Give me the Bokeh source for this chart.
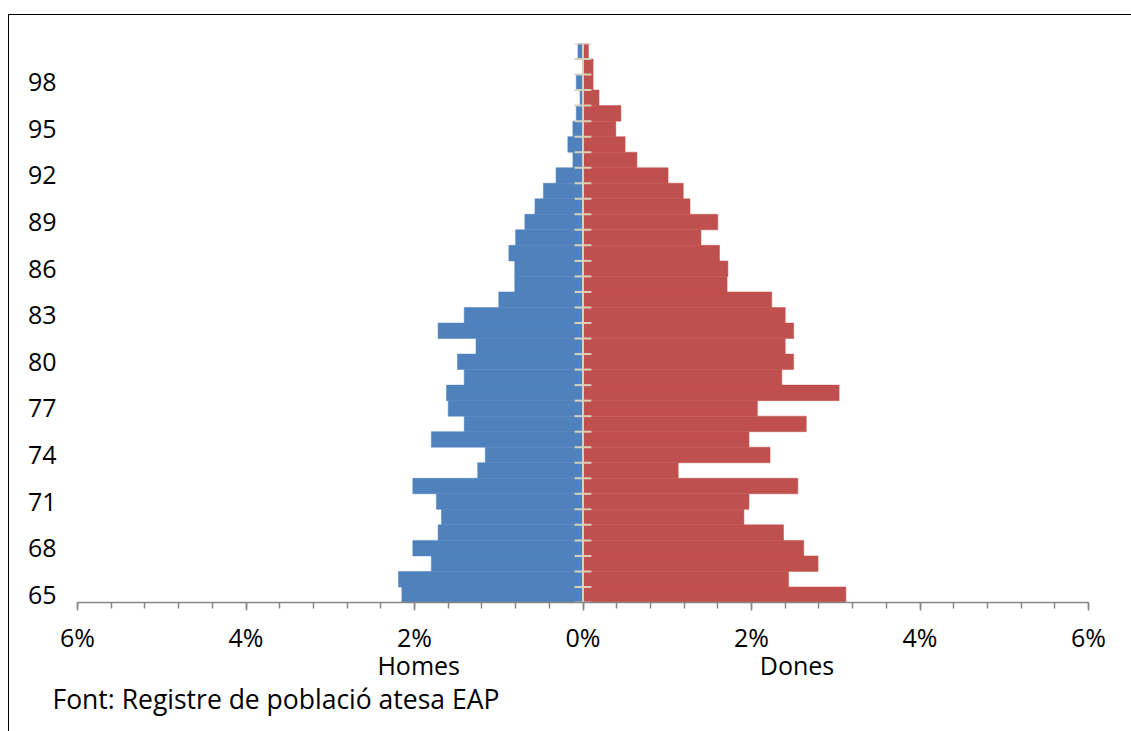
from bokeh.plotting import figure
from bokeh.models import (Range1d, FixedTicker, CustomJSTickFormatter, LinearAxis,
                          ColumnDataSource, InlineStyleSheet, Title)
from bokeh.embed import file_html
from bokeh.resources import INLINE

# ---- data (percent of population, ages 65..100) ----
ages = list(range(65, 101))
homes = [2.15, 2.19, 1.80, 2.02, 1.72, 1.68, 1.74, 2.02, 1.25, 1.16,
         1.80, 1.41, 1.60, 1.62, 1.41, 1.49, 1.27, 1.72, 1.41, 1.00,
         0.81, 0.81, 0.88, 0.80, 0.69, 0.57, 0.47, 0.32, 0.12, 0.18,
         0.12, 0.08, 0.035, 0.08, 0.0, 0.06]
dones = [3.12, 2.44, 2.79, 2.62, 2.38, 1.91, 1.97, 2.55, 1.13, 2.22,
         1.97, 2.65, 2.07, 3.04, 2.36, 2.50, 2.40, 2.50, 2.40, 2.24,
         1.71, 1.72, 1.62, 1.40, 1.60, 1.27, 1.19, 1.01, 0.64, 0.50,
         0.39, 0.45, 0.19, 0.12, 0.12, 0.065]
y_tick_ages = [65, 68, 71, 74, 77, 80, 83, 86, 89, 92, 95, 98]
x_ticks = [-6, -4, -2, 0, 2, 4, 6]
series_names = ["Homes", "Dones"]
source_text = "Font: Registre de població atesa EAP"

FONT = "Open Sans"
BLUE = "#4F81BD"
RED = "#C0504D"
AXIS_BEIGE = "#D6D1BD"

W, H = 1131, 731
FL, FR, FT, FB = 77, 43, 43, 129   # frame borders
p = figure(width=W, height=H, output_backend="svg", toolbar_location=None,
           x_range=Range1d(-6, 6), y_range=Range1d(ages[0] - 0.5, ages[-1] + 0.5),
           min_border_left=FL, min_border_right=FR, min_border_top=FT,
           min_border_bottom=FB)
p.outline_line_color = None
p.grid.visible = False
p.background_fill_color = "white"
p.border_fill_color = "white"

src = ColumnDataSource(dict(age=ages, neg=[-v for v in homes], pos=dones,
                            zero=[0] * len(ages)))
p.hbar(y="age", left="neg", right="zero", height=1.0, source=src,
       fill_color=BLUE, line_color=BLUE, line_width=0.5)
p.hbar(y="age", left="zero", right="pos", height=1.0, source=src,
       fill_color=RED, line_color=RED, line_width=0.5)

# central category axis with cross ticks
bounds = [a - 0.5 for a in ages] + [ages[-1] + 0.5]
p.segment(x0=[0], x1=[0], y0=[bounds[0]], y1=[bounds[-1]],
          line_color=AXIS_BEIGE, line_width=2)
p.segment(x0=[-0.1] * len(bounds), x1=[0.1] * len(bounds), y0=bounds, y1=bounds,
          line_color=AXIS_BEIGE, line_width=2)

# x axis
xa = p.xaxis[0]
xa.ticker = FixedTicker(ticks=x_ticks,
                        minor_ticks=[round(-6 + 0.4 * i, 2) for i in range(31)])
xa.formatter = CustomJSTickFormatter(code="return Math.abs(tick) + '%';")
xa.axis_line_color = "#868686"
xa.axis_line_width = 1.5
xa.major_tick_line_color = "#868686"
xa.minor_tick_line_color = "#868686"
xa.major_tick_line_width = 1.5
xa.minor_tick_line_width = 1.5
xa.major_tick_in = 0
xa.major_tick_out = 8
xa.minor_tick_in = 0
xa.minor_tick_out = 6
xa.major_label_standoff = 9
xa.major_label_text_font = FONT
xa.major_label_text_font_size = "25px"
xa.major_label_text_color = "black"

# second axis carrying the series names (Homes / Dones)
name_pos = [-1.95, 2.54]
ax2 = LinearAxis(ticker=FixedTicker(ticks=name_pos, minor_ticks=[]),
                 formatter=CustomJSTickFormatter(args=dict(names=series_names),
                                                 code="return tick < 0 ? names[0] : names[1];"),
                 axis_line_color=None, major_tick_line_color=None,
                 minor_tick_line_color=None, major_label_standoff=-15,
                 major_label_text_font=FONT, major_label_text_font_size="25px",
                 major_label_text_color="black")
p.add_layout(ax2, "below")

# y axis (labels only)
ya = p.yaxis[0]
ya.ticker = FixedTicker(ticks=y_tick_ages, minor_ticks=[])
ya.axis_line_color = None
ya.major_tick_line_color = None
ya.minor_tick_line_color = None
ya.major_label_standoff = 15
ya.major_label_text_font = FONT
ya.major_label_text_font_size = "25px"
ya.major_label_text_color = "black"

# source note
p.add_layout(Title(text=source_text, align="left", offset=52 - FL,
                   text_font=FONT, text_font_size="26.5px",
                   text_font_style="normal", text_color="black",
                   standoff=-11), "below")

# outer frame drawn on the host element
p.stylesheets = [InlineStyleSheet(css="""
:host { position: relative; }
:host::after {
  content: ''; position: absolute; left: 8px; top: 14px; width: 1200px; height: 800px;
  border-left: 1.5px solid black; border-top: 1.5px solid black;
  pointer-events: none; z-index: 10;
}
""")]

open("out.html", "w").write(file_html(p, INLINE))
